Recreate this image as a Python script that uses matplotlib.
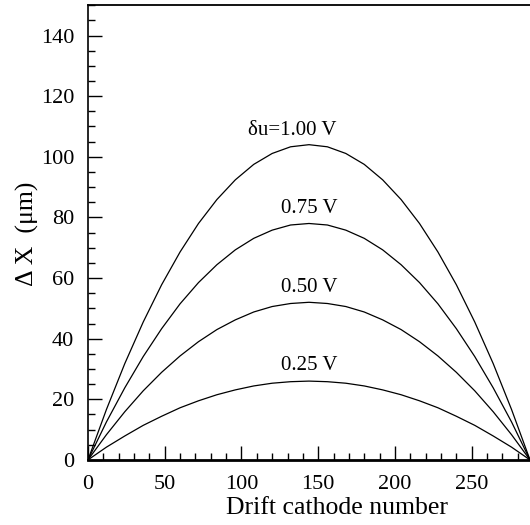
import numpy as np
import matplotlib
matplotlib.use('Agg')
import matplotlib.pyplot as plt
from matplotlib.ticker import MultipleLocator

# cathode number where each curve was read
cathode = [0, 12, 24, 36, 48, 60, 72, 84, 96, 108, 120, 132, 144,
           156, 168, 180, 192, 204, 216, 228, 240, 252, 264, 276, 288]

# displacement (um) for each voltage step
dx_100 = [0, 16.6, 31.8, 45.5, 57.8, 68.6, 78.0, 85.9, 92.4, 97.5, 101.1, 103.3, 104.0,
          103.3, 101.1, 97.5, 92.4, 85.9, 78.0, 68.6, 57.8, 45.5, 31.8, 16.6, 0]
dx_075 = [0, 12.5, 23.8, 34.1, 43.3, 51.5, 58.5, 64.4, 69.3, 73.1, 75.8, 77.5, 78.0,
          77.5, 75.8, 73.1, 69.3, 64.4, 58.5, 51.5, 43.3, 34.1, 23.8, 12.5, 0]
dx_050 = [0, 8.3, 15.9, 22.8, 28.9, 34.3, 39.0, 43.0, 46.2, 48.8, 50.6, 51.6, 52.0,
          51.6, 50.6, 48.8, 46.2, 43.0, 39.0, 34.3, 28.9, 22.8, 15.9, 8.3, 0]
dx_025 = [0, 4.2, 7.9, 11.4, 14.4, 17.2, 19.5, 21.5, 23.1, 24.4, 25.3, 25.8, 26.0,
          25.8, 25.3, 24.4, 23.1, 21.5, 19.5, 17.2, 14.4, 11.4, 7.9, 4.2, 0]

labels = ['\u03b4u=1.00 V', '0.75 V', '0.50 V', '0.25 V']
label_pos = [(133, 108.8), (144, 83.0), (144, 57.0), (144, 31.0)]

plt.rcParams['font.family'] = ['Liberation Serif', 'DejaVu Serif']

fig = plt.figure(figsize=(5.3, 5.25), dpi=100)
ax = fig.add_axes([0.166, 0.124, 0.834, 0.866])

for ys in (dx_100, dx_075, dx_050, dx_025):
    ax.plot(cathode, ys, color='black', lw=0.9)

for txt, (x, y) in zip(labels, label_pos):
    ax.text(x, y, txt, ha='center', va='center', fontsize=15)

ax.set_xlim(0, 288)
ax.set_ylim(0, 150)
ax.xaxis.set_major_locator(MultipleLocator(50))
ax.xaxis.set_minor_locator(MultipleLocator(10))
ax.yaxis.set_major_locator(MultipleLocator(20))
ax.yaxis.set_minor_locator(MultipleLocator(5))
ax.tick_params(which='both', direction='in', labelsize=16, width=1, top=False, right=False)
ax.tick_params(which='major', length=10)
ax.tick_params(axis='x', which='major', pad=11)
ax.tick_params(axis='y', which='major', pad=10)
ax.tick_params(which='minor', length=5)

ax.spines['right'].set_visible(False)
ax.spines['bottom'].set_linewidth(2)
ax.spines['top'].set_linewidth(1.3)
ax.spines['left'].set_linewidth(1.2)

ax.set_xlabel('Drift cathode number', fontsize=18.5)
ax.xaxis.set_label_coords(0.563, -0.081)
ax.set_ylabel('\u0394 X  (\u03bcm)', fontsize=18.5)
ax.yaxis.set_label_coords(-0.11, 0.497)

fig.savefig('out.png', dpi=100)
